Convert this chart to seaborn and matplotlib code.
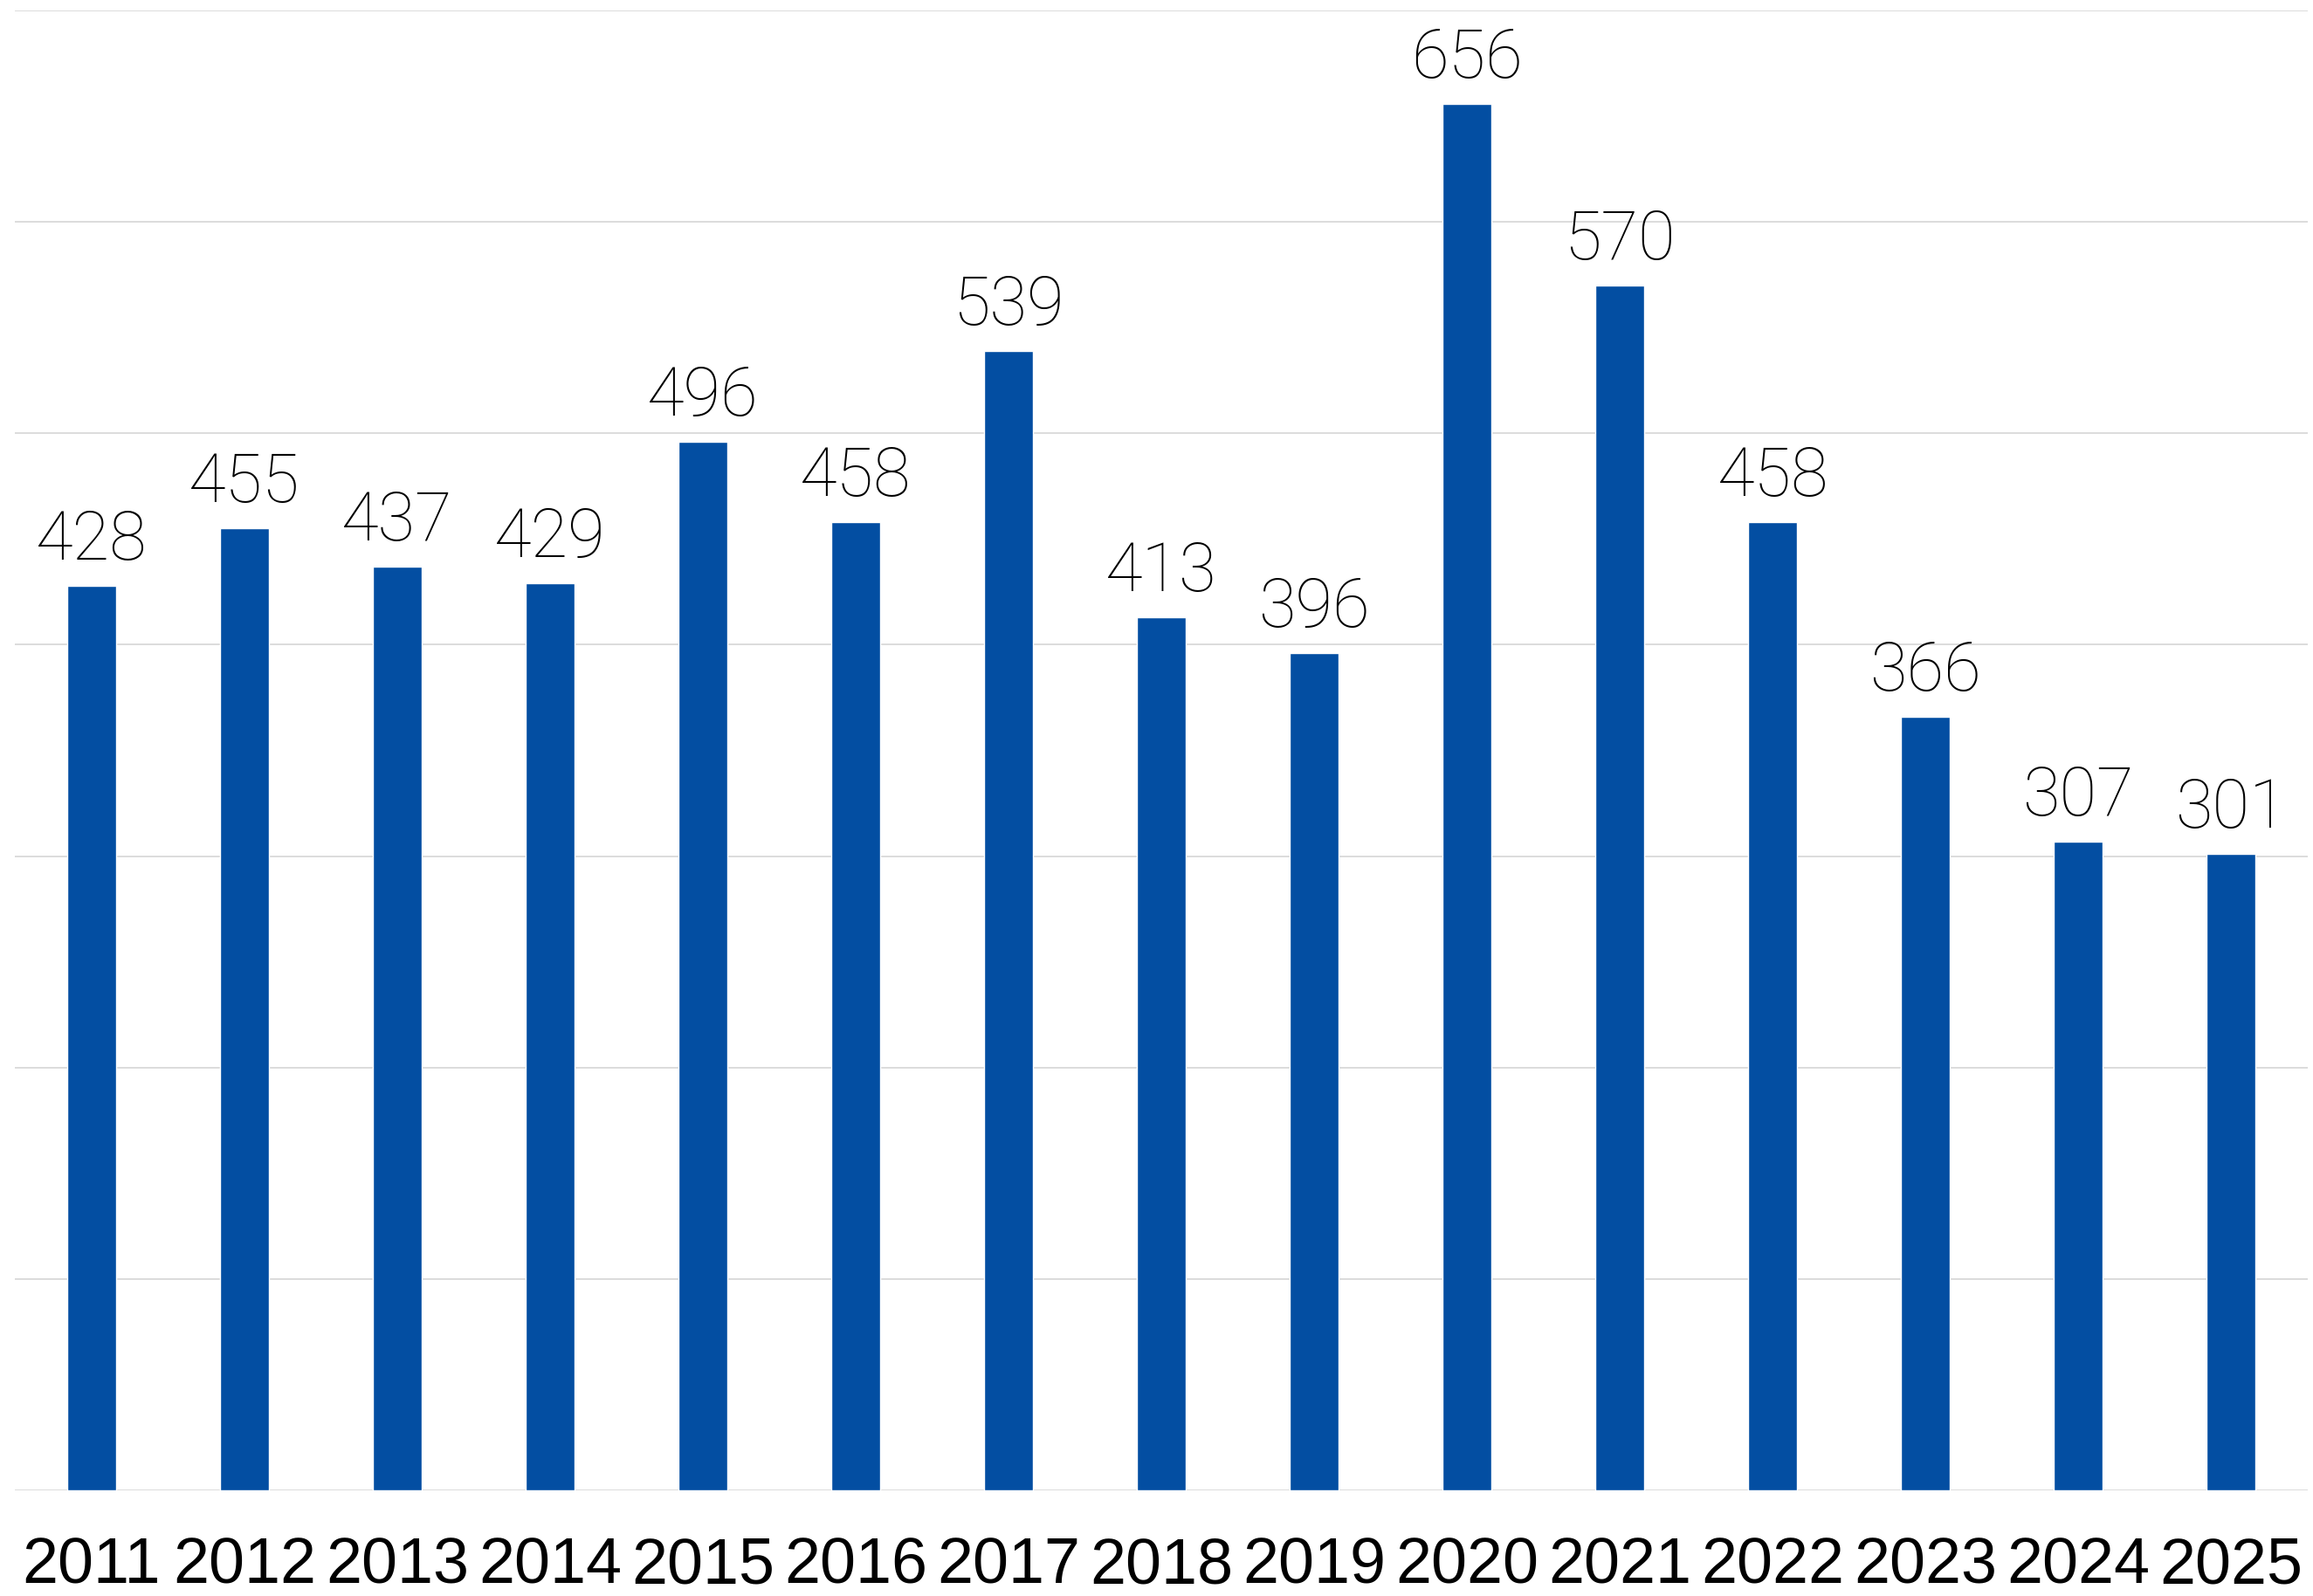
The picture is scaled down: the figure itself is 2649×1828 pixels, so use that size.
import matplotlib
matplotlib.use('Agg')
import matplotlib.pyplot as plt
import seaborn as sns

# Values
years = ['2011', '2012', '2013', '2014', '2015', '2016', '2017', '2018',
         '2019', '2020', '2021', '2022', '2023', '2024', '2025']
counts = [428, 455, 437, 429, 496, 458, 539, 413, 396, 656, 570, 458, 366, 307, 301]
grid_ticks = [0, 100, 200, 300, 400, 500, 600, 700]

sns.set_style('white')
plt.rcParams['font.family'] = ['Liberation Sans', 'DejaVu Sans']

fig = plt.figure(figsize=(26.49, 18.28), dpi=100)
ax = fig.add_axes([0.0065, 0.0662, 0.9912, 0.9272])

sns.barplot(x=years, y=counts, color='#034EA2', saturation=1, width=0.32, ax=ax)

# Value labels above bars
ax.bar_label(ax.containers[0], labels=[str(v) for v in counts], padding=10,
             fontsize=56, family='Roboto', fontweight='light', color='black')

ax.set_ylim(0, 700)
ax.set_xlim(-0.5, len(years) - 0.5)
ax.set_yticks(grid_ticks)
ax.set_yticklabels([])
ax.grid(axis='y', color='#d9d9d9', linewidth=1.3)
ax.set_axisbelow(True)
ax.tick_params(axis='y', length=0)
ax.tick_params(axis='x', length=0, pad=38, labelsize=53, labelcolor='black')
ax.set_xlabel('')
ax.set_ylabel('')
sns.despine(ax=ax, left=True, bottom=True)

plt.savefig('out.png', dpi=100)
